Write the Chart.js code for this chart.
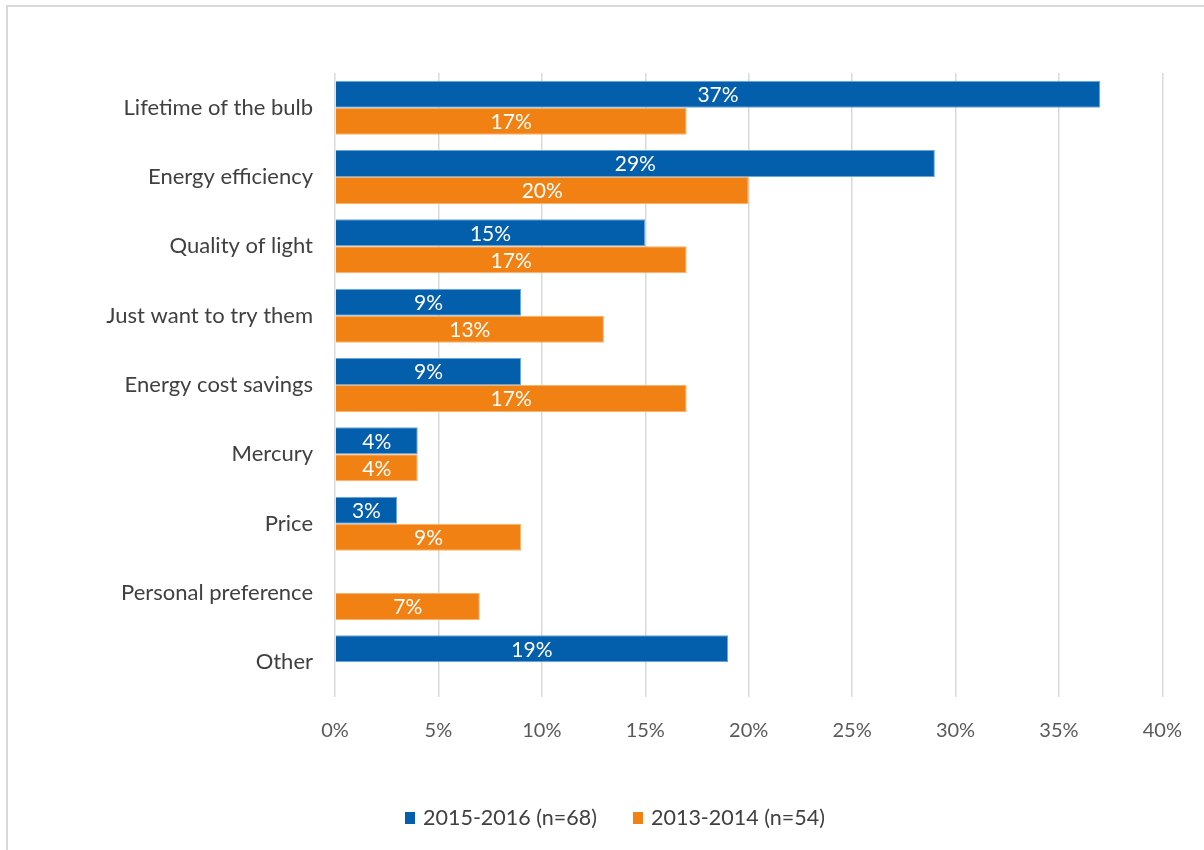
<!DOCTYPE html>
<html>
<head>
<meta charset="utf-8">
<script src="https://cdn.jsdelivr.net/npm/chart.js@4"></script>
<style>
  body { margin: 0; background: #fff; }
  #wrap { position: relative; width: 1204px; height: 850px; }
  #frame { position: absolute; left: 6px; top: 5px; right: -4px; bottom: -4px;
           border-left: 2px solid #d9d9d9; border-top: 2px solid #d9d9d9; }
  canvas { position: absolute; left: 0; top: 0; }
</style>
</head>
<body>
<div id="wrap">
  <div id="frame"></div>
  <canvas id="mycanvas" width="1204" height="850"></canvas>
</div>
<script>
var reasons = ['Lifetime of the bulb', 'Energy efficiency', 'Quality of light', 'Just want to try them',
               'Energy cost savings', 'Mercury', 'Price', 'Personal preference', 'Other'];
var pct2015 = [37, 29, 15, 9, 9, 4, 3, null, 19];
var pct2013 = [17, 20, 17, 13, 17, 4, 9, 7, null];
var seriesNames = ['2015-2016 (n=68)', '2013-2014 (n=54)'];
var tickValues = [0, 5, 10, 15, 20, 25, 30, 35, 40];

var FONT = 'Lato, "Open Sans", sans-serif';
var BLUE = '#035eab';
var ORANGE = '#f28114';

// white percentage text in the middle of each bar
var barLabels = {
	id: 'barLabels',
	afterDatasetsDraw: function(chart) {
		var ctx = chart.ctx;
		ctx.save();
		ctx.fillStyle = '#ffffff';
		ctx.font = '21px ' + FONT;
		ctx.textAlign = 'center';
		ctx.textBaseline = 'middle';
		chart.data.datasets.forEach(function(ds, di) {
			chart.getDatasetMeta(di).data.forEach(function(bar, i) {
				if (ds.data[i] == null) return;
				ctx.fillText(ds.data[i] + '%', (bar.x + bar.base) / 2, bar.y + 1);
			});
		});
		ctx.restore();
	}
};

// legend row under the axis
var bottomLegend = {
	id: 'bottomLegend',
	afterDraw: function(chart) {
		var ctx = chart.ctx;
		var x = 405, y = 818;
		ctx.save();
		ctx.font = '21.5px ' + FONT;
		ctx.textBaseline = 'middle';
		chart.data.datasets.forEach(function(ds) {
			ctx.fillStyle = ds.backgroundColor;
			ctx.fillRect(x, y - 6, 10, 12);
			ctx.fillStyle = '#404040';
			ctx.fillText(ds.label, x + 18, y);
			x += 18 + ctx.measureText(ds.label).width + 36;
		});
		ctx.restore();
	}
};

var chartdata = {
	labels: reasons,
	datasets: [
		{
			label: seriesNames[0],
			backgroundColor: BLUE,
			borderColor: '#6aa6dc',
			borderWidth: 1,
			data: pct2015
		},
		{
			label: seriesNames[1],
			backgroundColor: ORANGE,
			borderColor: '#f7b26b',
			borderWidth: 1,
			data: pct2013
		}
	]
};

var ctx = document.getElementById('mycanvas');

var barGraph = new Chart(ctx, {
	type: 'bar',
	data: chartdata,
	plugins: [barLabels, bottomLegend],
	options: {
		indexAxis: 'y',
		responsive: false,
		animation: false,
		layout: { padding: { top: 73, left: 10, right: 35, bottom: 93 } },
		datasets: { bar: { categoryPercentage: 0.78, barPercentage: 1.0 } },
		plugins: {
			legend: { display: false },
			tooltip: { enabled: false }
		},
		scales: {
			x: {
				min: 0,
				max: 40,
				afterBuildTicks: function(axis) {
					axis.ticks = tickValues.map(function(v) { return { value: v }; });
				},
				afterFit: function(axis) { axis.height = 60; },
				grid: { color: '#d9d9d9', lineWidth: 1.5, drawTicks: false },
				border: { display: false },
				ticks: {
					padding: 22,
					color: '#595959',
					font: { family: FONT, size: 20 },
					callback: function(v) { return v + '%'; }
				}
			},
			y: {
				afterFit: function(axis) { axis.width = 325; },
				grid: { display: false, drawTicks: false },
				border: { display: false },
				ticks: {
					padding: 22,
					color: '#404040',
					font: { family: FONT, size: 22 }
				}
			}
		}
	}
});
</script>
</body>
</html>
